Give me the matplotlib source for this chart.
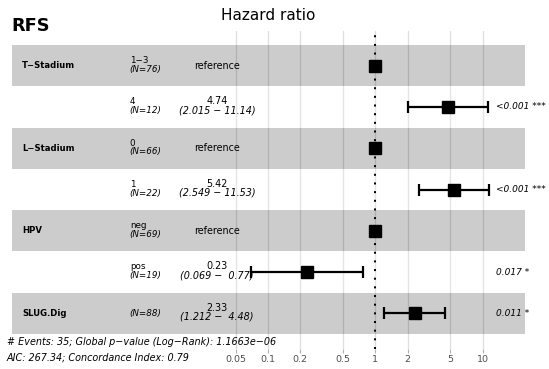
import numpy as np
import matplotlib
matplotlib.use("Agg")
import matplotlib.pyplot as plt
from matplotlib.ticker import FixedLocator, FixedFormatter, NullLocator

# data (top row first)
variables = ["T\u2212Stadium", "", "L\u2212Stadium", "", "HPV", "", "SLUG.Dig"]
levels = ["1\u22123", "4", "0", "1", "neg", "pos", ""]
n_obs = [76, 12, 66, 22, 69, 19, 88]
hr = [np.nan, 4.74, np.nan, 5.42, np.nan, 0.23, 2.33]
ci_low = [np.nan, 2.015, np.nan, 2.549, np.nan, 0.069, 1.212]
ci_high = [np.nan, 11.14, np.nan, 11.53, np.nan, 0.77, 4.48]
p_labels = ["", "<0.001 ***", "", "<0.001 ***", "", "0.017 *", "0.011 *"]
breaks = [0.05, 0.1, 0.2, 0.5, 1, 2, 5, 10]

n_events = 35
p_logrank = "1.1663e\u221206"
aic = 267.34
concordance = 0.79

plt.rcParams['font.family'] = ['DejaVu Sans']
fs = 6.9      # estimates, CIs, footer
fs_lev = 6.3  # level and N
fs_var = 6.1  # bold variable names

fig = plt.figure(figsize=(5.49, 3.69), dpi=100)
ax = fig.add_axes([1.4 / 549, 1 - 348.5 / 369, 534.2 / 549, 318 / 369])
ax.set_xscale('log')

rows = np.arange(len(variables))
hr = np.array(hr)
lo = np.array(ci_low)
hi = np.array(ci_high)

# plot range like ggforest: wide margin on the left for the text columns
lo_ln = np.log(np.nanmin(lo))
hi_ln = np.log(np.nanmax(hi))
d = hi_ln - lo_ln
r0 = lo_ln - d
r1 = hi_ln + 0.15 * d
w = r1 - r0
ax.set_xlim(np.exp(r0 - 0.02 * w), np.exp(r1 + 0.02 * w))
ax.set_ylim(len(rows) - 0.15, -0.85)

# alternating bands
for i in rows:
    col = (0, 0, 0, 0.2) if i % 2 == 0 else (1, 1, 1, 0.2)
    ax.barh(i, np.exp(r1) - np.exp(r0), left=np.exp(r0), height=1.0,
            color=col, linewidth=0, zorder=1)

# estimates (reference rows drawn at 1)
est = np.where(np.isnan(hr), 1.0, hr)
has_ci = ~np.isnan(lo)
ax.errorbar(est[has_ci], rows[has_ci],
            xerr=[est[has_ci] - lo[has_ci], hi[has_ci] - est[has_ci]],
            fmt='none', ecolor='black', elinewidth=1.6, capsize=4.6,
            capthick=1.6, zorder=3)
ax.plot(est, rows, 's', color='black', markersize=8.9, zorder=4, linestyle='none')

ax.axvline(1, color='black', lw=1.45, linestyle=(0, (1, 3.3)), zorder=5)

# axis look
ax.set_axisbelow(True)
ax.grid(axis='x', color='#DEDEDE', lw=0.9)
ax.xaxis.set_major_locator(FixedLocator(breaks))
ax.xaxis.set_major_formatter(FixedFormatter(['%g' % b for b in breaks]))
ax.xaxis.set_minor_locator(NullLocator())
ax.tick_params(axis='x', length=3, width=0.8, color='#B3B3B3', pad=1.5,
               labelsize=6.8, labelcolor='#4D4D4D')
ax.set_yticks([])
for s in ax.spines.values():
    s.set_visible(False)
ax.set_title("Hazard ratio", fontsize=11, pad=7.5)

# text columns
x_var = np.exp(r0 + 0.02 * w)
x_lev = np.exp(r0 + 0.23 * w)
x_ci = np.exp(r0 + 0.40 * w)
x_star = np.exp(hi_ln)

for i in rows:
    ax.text(x_var, i, variables[i], fontsize=fs_var, fontweight='bold',
            ha='left', va='center', zorder=6)
    if levels[i]:
        ax.annotate(levels[i], (x_lev, i), xytext=(0, 1.9), textcoords='offset points',
                    fontsize=fs_lev, ha='left', va='baseline', annotation_clip=False)
        ax.annotate("(N=%d)" % n_obs[i], (x_lev, i), xytext=(0, -4.4),
                    textcoords='offset points', fontsize=fs_lev, style='italic',
                    ha='left', va='baseline', annotation_clip=False)
    else:
        ax.text(x_lev, i, "(N=%d)" % n_obs[i], fontsize=fs_lev, style='italic',
                ha='left', va='center')
    if np.isnan(hr[i]):
        ax.text(x_ci, i, "reference", fontsize=fs, ha='center', va='center')
    else:
        ax.annotate("%.2f" % hr[i], (x_ci, i), xytext=(0, 1.9), textcoords='offset points',
                    fontsize=fs, ha='center', va='baseline', annotation_clip=False)
        ci_txt = "(%g \u2212 %5s)" % (lo[i], "%g" % hi[i])
        ax.annotate(ci_txt, (x_ci, i), xytext=(0, -4.6), textcoords='offset points',
                    fontsize=fs, style='italic', ha='center', va='baseline',
                    annotation_clip=False)
    if p_labels[i]:
        ax.annotate(p_labels[i], (x_star, i), xytext=(5, 0), textcoords='offset points',
                    fontsize=6.5, style='italic', ha='left', va='center',
                    annotation_clip=False)

# model summary below the last row
footer1 = "# Events: %d; Global p\u2212value (Log\u2212Rank): %s" % (n_events, p_logrank)
footer2 = "AIC: %.2f; Concordance Index: %.2f" % (aic, concordance)
x_foot = np.exp(r0 - 0.01 * w)
ax.text(x_foot, len(rows) - 0.5 + 0.19, footer1, fontsize=fs,
        style='italic', ha='left', va='center', clip_on=False)
ax.text(x_foot, len(rows) - 0.5 + 0.56, footer2, fontsize=fs,
        style='italic', ha='left', va='center', clip_on=False)

fig.text(11.7 / 549, 1 - 31 / 369, "RFS", fontsize=12.8, fontweight='bold',
         ha='left', va='baseline')

fig.savefig("out.png", dpi=100)
